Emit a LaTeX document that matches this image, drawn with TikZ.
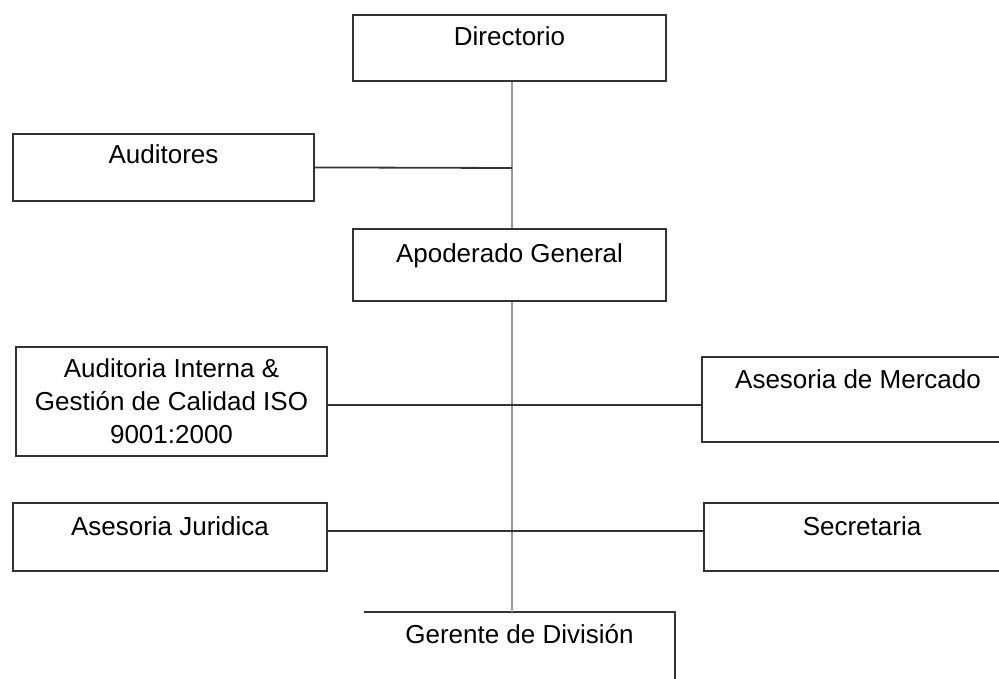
\documentclass[tikz,border=0pt]{standalone}
\usepackage{fontspec}
\setmainfont{Liberation Sans}
\begin{document}
\begin{tikzpicture}[x=1pt,y=-1pt,
  unit/.style={draw=black!80, line width=1.8pt, fill=white, inner xsep=0pt, inner ysep=0pt,
    align=center, font=\fontsize{26}{33}\selectfont, anchor=north},
  trunk/.style={draw=black!40, line width=1.4pt},
  link/.style={draw=black!80, line width=1.8pt}]
\useasboundingbox (0,0) rectangle (999,678);
% chain of command
\node[unit, minimum width=313pt, text height=31pt, text depth=35pt] (dir) at (509.5,14) {Directorio};
\node[unit, minimum width=301pt, text height=30pt, text depth=37pt] (aud) at (163.5,133) {Auditores};
\node[unit, minimum width=313pt, text height=34pt, text depth=38pt] (apo) at (509.5,228) {Apoderado General};
\node[unit, minimum width=311pt, minimum height=109pt] (int) at (171.5,346)
  {Auditoria Interna \&\\ Gestión de Calidad ISO\\ 9001:2000};
\node[unit, minimum width=312pt, text height=32pt, text depth=53pt] (mer) at (858,356) {Asesoria de Mercado};
\node[unit, minimum width=314pt, text height=33pt, text depth=35pt] (jur) at (170,502) {Asesoria Juridica};
\node[unit, minimum width=316pt, text height=33pt, text depth=35pt] (sec) at (862,502) {Secretaria};
\node[inner xsep=0pt, inner ysep=0pt, minimum width=311pt, text height=31pt, text depth=60pt,
  font=\fontsize{26}{33}\selectfont, anchor=north] (ger) at (519.5,612) {Gerente de División};
\draw[link] (ger.north west) -- (ger.north east) -- (ger.south east);
% connectors
\coordinate (j1) at (512,168);
\draw[trunk] (dir.south -| 512,0) -- (apo.north -| 512,0);
\draw[trunk] (apo.south -| 512,0) -- (ger.north -| 512,0);
\draw[link] (aud.east) -- (j1);
\draw[link] (int.east |- 0,405) -- (mer.west |- 0,405);
\draw[link] (jur.east |- 0,531) -- (sec.west |- 0,531);
\end{tikzpicture}
\end{document}
